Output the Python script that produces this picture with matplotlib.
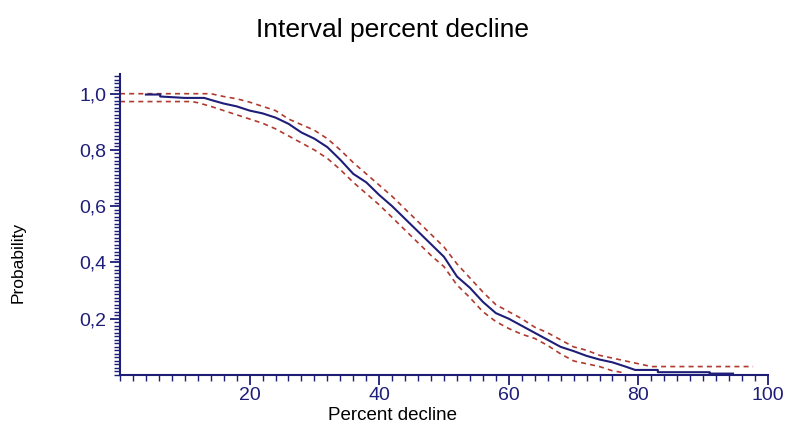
import matplotlib
matplotlib.use("Agg")
import matplotlib.pyplot as plt
from matplotlib.ticker import MultipleLocator, FuncFormatter

# Estimated probability curve with its confidence band
pct = [4, 6.2, 6.2, 10, 13, 14, 16, 18, 20, 22, 24, 26, 28, 30, 32, 34, 36, 38, 40,
       42, 44, 46, 48, 50, 52, 54, 56, 58, 60, 62, 64, 66, 68, 70, 72, 74, 76,
       78, 79.5, 83, 83, 91, 91, 94.6]
prob = [0.997, 0.997, 0.99, 0.985, 0.985, 0.978, 0.965, 0.955, 0.94, 0.93, 0.915,
        0.893, 0.862, 0.84, 0.81, 0.765, 0.715, 0.685, 0.64, 0.60, 0.555, 0.51,
        0.465, 0.42, 0.35, 0.31, 0.26, 0.22, 0.2, 0.175, 0.15, 0.125, 0.10,
        0.085, 0.068, 0.055, 0.045, 0.03, 0.018, 0.018, 0.01, 0.01, 0.005, 0.005]

upper_x = [0, 14, 16, 18, 20, 22, 24, 26, 28, 30, 32, 34, 36, 38, 40, 42, 44, 46,
           48, 50, 52, 54, 56, 58, 60, 62, 64, 66, 68, 70, 72, 74, 76, 78, 80, 82,
           97.7]
upper_y = [1.0, 1.0, 0.99, 0.982, 0.97, 0.955, 0.94, 0.91, 0.89, 0.87, 0.84, 0.80,
           0.755, 0.715, 0.675, 0.635, 0.59, 0.545, 0.5, 0.455, 0.395, 0.345,
           0.295, 0.25, 0.225, 0.2, 0.17, 0.15, 0.125, 0.1, 0.088, 0.07, 0.06,
           0.05, 0.04, 0.03, 0.03]

lower_x = [0, 11, 12, 14, 16, 18, 20, 22, 24, 26, 28, 30, 32, 34, 36, 38, 40, 42,
           44, 46, 48, 50, 52, 54, 56, 58, 60, 62, 64, 66, 68, 70, 72, 74, 76, 78]
lower_y = [0.972, 0.972, 0.968, 0.955, 0.94, 0.925, 0.91, 0.895, 0.875, 0.85,
           0.825, 0.8, 0.77, 0.73, 0.685, 0.645, 0.605, 0.56, 0.515, 0.47, 0.425,
           0.385, 0.32, 0.275, 0.225, 0.19, 0.165, 0.145, 0.13, 0.105, 0.075,
           0.05, 0.04, 0.03, 0.015, 0.007]

x_ticks = [20, 40, 60, 80, 100]
y_ticks = [0.2, 0.4, 0.6, 0.8, 1.0]

NAVY = "#1e1e78"
RED = "#b03a2e"
plt.rcParams["font.family"] = ["Liberation Sans", "DejaVu Sans"]

fig = plt.figure(figsize=(7.85, 4.29), dpi=100)
ax = fig.add_axes([120 / 785, 1 - 375 / 429, (768 - 120) / 785, (375 - 74) / 429])

ax.plot(upper_x, upper_y, color=RED, lw=1.2, linestyle=(0, (3, 2.5)))
ax.plot(lower_x, lower_y, color=RED, lw=1.2, linestyle=(0, (3, 2.5)))
ax.plot(pct, prob, color=NAVY, lw=1.5)

ax.set_xlim(0, 100)
ax.set_ylim(0, 1.07)
ax.set_xticks(x_ticks)
ax.set_yticks(y_ticks)
ax.xaxis.set_minor_locator(MultipleLocator(2))
ax.yaxis.set_minor_locator(MultipleLocator(0.0125))
ax.yaxis.set_major_formatter(FuncFormatter(lambda v, _: f"{v:.1f}".replace(".", ",")))

for s in ("top", "right"):
    ax.spines[s].set_visible(False)
for s in ("left", "bottom"):
    ax.spines[s].set_color(NAVY)
    ax.spines[s].set_linewidth(1.5)

ax.tick_params(axis="both", which="major", direction="out", length=7, width=1.3,
               color=NAVY, labelcolor=NAVY, labelsize=14)
ax.tick_params(axis="both", which="minor", direction="out", length=4, width=1.0,
               color=NAVY)
ax.tick_params(axis="x", which="major", pad=2)
ax.tick_params(axis="y", which="major", pad=3)

fig.text(0.5, 1 - 30 / 429, "Interval percent decline", ha="center", va="center",
         fontsize=19, color="black")
fig.text(392 / 785, 1 - 415 / 429, "Percent decline", ha="center", va="center",
         fontsize=13.5, color="black")
fig.text(18 / 785, 1 - 262 / 429, "Probability", ha="center", va="center",
         rotation=90, fontsize=12.5, color="black")

fig.savefig("out.png", dpi=100)
